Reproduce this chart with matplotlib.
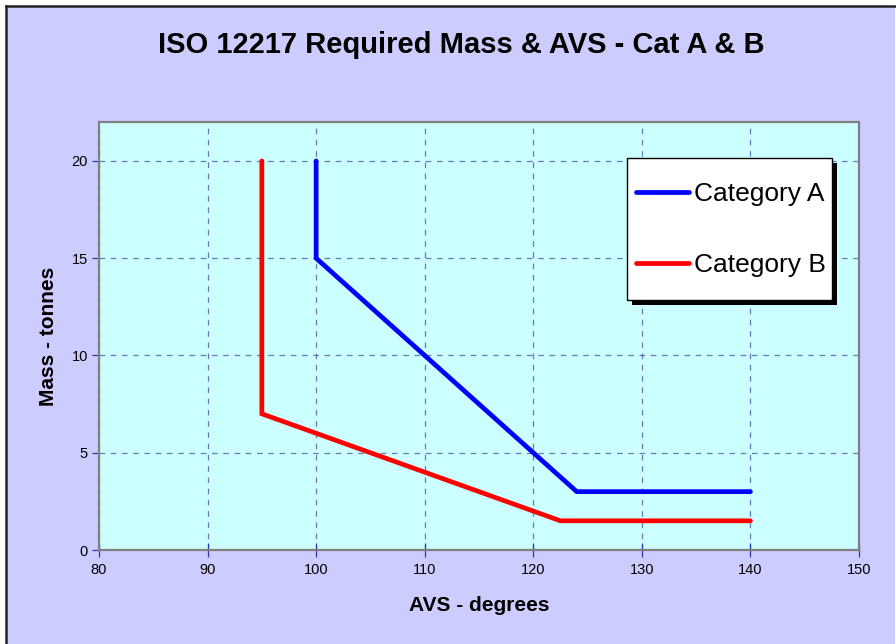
import matplotlib
matplotlib.use("Agg")
import matplotlib.pyplot as plt
from matplotlib.patches import Rectangle
from matplotlib.lines import Line2D

plt.rcParams['font.family'] = ['Liberation Sans', 'DejaVu Sans']

# data
cat_a_avs = [100, 100, 124, 140]
cat_a_mass = [20, 15, 3, 3]
cat_b_avs = [95, 95, 122.5, 140]
cat_b_mass = [20, 7, 1.5, 1.5]
x_ticks = [80, 90, 100, 110, 120, 130, 140, 150]
y_ticks = [0, 5, 10, 15, 20]

W, H = 896, 644
fig = plt.figure(figsize=(W / 100, H / 100), dpi=100)
fig.patch.set_facecolor('white')

# lavender chart area with the dark top / left edge
fig.patches.append(Rectangle((6 / W, -0.01), (895 - 6) / W, 1 - 6 / H + 0.01,
                             transform=fig.transFigure, facecolor='#CCCCFF',
                             edgecolor='none', zorder=-5))
fig.lines.append(Line2D([6 / W, 895 / W], [1 - 6 / H, 1 - 6 / H],
                        transform=fig.transFigure, color='#222222', lw=1.8, zorder=-4))
fig.lines.append(Line2D([6 / W, 6 / W], [0, 1 - 6 / H],
                        transform=fig.transFigure, color='#222222', lw=1.8, zorder=-4))

left, right, bottom, top = 99, 859, 550, 122
ax = fig.add_axes([left / W, 1 - bottom / H, (right - left) / W, (bottom - top) / H])
ax.set_facecolor('#CCFFFF')

ax.plot(cat_a_avs, cat_a_mass, color='#0000FF', lw=3.4, solid_capstyle='round',
        solid_joinstyle='miter', label='Category A', zorder=3)
ax.plot(cat_b_avs, cat_b_mass, color='#FF0000', lw=3.4, solid_capstyle='round',
        solid_joinstyle='miter', label='Category B', zorder=3)

ax.set_xlim(80, 150)
ax.set_ylim(0, 22)
ax.set_xticks(x_ticks)
ax.set_yticks(y_ticks)
ax.grid(True, color='#5555AA', lw=0.9, linestyle=(0, (4.5, 4.5)), alpha=0.8)
ax.set_axisbelow(True)

for s in ax.spines.values():
    s.set_color('#808080')
    s.set_linewidth(1.6)

ax.tick_params(axis='x', direction='inout', length=10, width=0.9, color='#3333AA',
               labelsize=10.5, pad=4)
ax.tick_params(axis='y', direction='out', length=5, width=0.9, color='#3333AA',
               labelsize=10.5, pad=3)

ax.set_xlabel('AVS - degrees', fontsize=15, fontweight='bold', labelpad=14)
ax.set_ylabel('Mass - tonnes', fontsize=15, fontweight='bold', labelpad=10)
fig.text(461 / W, 1 - 45 / H, 'ISO 12217 Required Mass & AVS - Cat A & B',
         ha='center', va='center', fontsize=21, fontweight='bold')

# legend box with shadow
ax.add_patch(Rectangle((632 / W, 1 - 305 / H), 205 / W, 142 / H,
                       transform=fig.transFigure, facecolor='black',
                       edgecolor='none', clip_on=False, zorder=4))
ax.add_patch(Rectangle((627 / W, 1 - 300 / H), 205 / W, 142 / H,
                       transform=fig.transFigure, facecolor='white',
                       edgecolor='black', lw=1.0, clip_on=False, zorder=4.5))
leg = ax.legend(loc='upper left', bbox_to_anchor=(636 / W, 1 - 182 / H),
                bbox_transform=fig.transFigure, frameon=False, fontsize=19,
                borderpad=0, borderaxespad=0, handlelength=2.0,
                handletextpad=0.2, labelspacing=1.78)
leg.set_zorder(5)

fig.savefig('out.png', dpi=100, facecolor=fig.get_facecolor())
